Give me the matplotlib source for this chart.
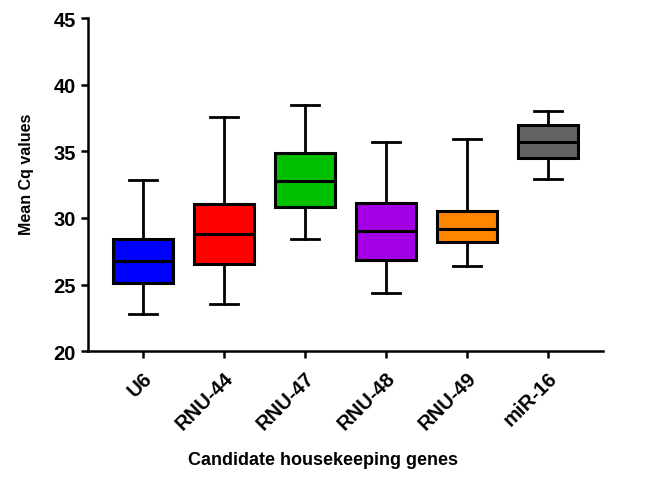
import matplotlib
matplotlib.use("Agg")
import matplotlib.pyplot as plt

plt.rcParams['font.family'] = ['Liberation Sans', 'DejaVu Sans']
plt.rcParams['font.weight'] = 'bold'

genes = ['U6', 'RNU-44', 'RNU-47', 'RNU-48', 'RNU-49', 'miR-16']
whisker_low = [22.8, 23.5, 28.4, 24.4, 26.4, 32.9]
q1 = [25.1, 26.55, 30.8, 26.85, 28.2, 34.5]
median = [26.75, 28.8, 32.8, 29.0, 29.15, 35.7]
q3 = [28.4, 31.05, 34.9, 31.1, 30.5, 37.0]
whisker_high = [32.85, 37.55, 38.45, 35.7, 35.9, 38.05]
colors = ['#0000ff', '#ff0000', '#00c000', '#a300e6', '#ff8400', '#636363']

stats = []
for i, g in enumerate(genes):
    stats.append({'label': g, 'whislo': whisker_low[i], 'q1': q1[i], 'med': median[i],
                  'q3': q3[i], 'whishi': whisker_high[i], 'fliers': []})

fig = plt.figure(figsize=(6.46, 4.81), dpi=100)
ax = fig.add_axes([0.136, 0.268, 0.797, 0.692])

bp = ax.bxp(stats, positions=range(len(genes)), widths=0.74, patch_artist=True,
            showfliers=False,
            boxprops=dict(linewidth=2.2, edgecolor='black'),
            medianprops=dict(linewidth=2.2, color='black'),
            whiskerprops=dict(linewidth=2.0, color='black'),
            capprops=dict(linewidth=2.0, color='black'),
            capwidths=0.35)
for patch, c in zip(bp['boxes'], colors):
    patch.set_facecolor(c)

ax.set_xlim(-0.68, 5.68)
ax.set_ylim(20, 45)
ax.set_yticks([20, 25, 30, 35, 40, 45])

for s in ['top', 'right']:
    ax.spines[s].set_visible(False)
for s in ['left', 'bottom']:
    ax.spines[s].set_linewidth(1.8)

ax.tick_params(axis='both', width=1.8, length=5)
ax.tick_params(axis='y', labelsize=14.5)
ax.tick_params(axis='x', pad=7)
ax.set_xticks(range(len(genes)))
ax.set_xticklabels(genes, rotation=45, ha='right', rotation_mode='anchor', fontsize=14.5)

ax.set_ylabel('Mean Cq values', fontsize=11.5, fontweight='bold')
ax.yaxis.set_label_coords(-0.105, 0.535)
ax.set_xlabel('Candidate housekeeping genes', fontsize=13, fontweight='bold')
ax.xaxis.set_label_coords(0.456, -0.3)

fig.savefig('out.png', dpi=100)
